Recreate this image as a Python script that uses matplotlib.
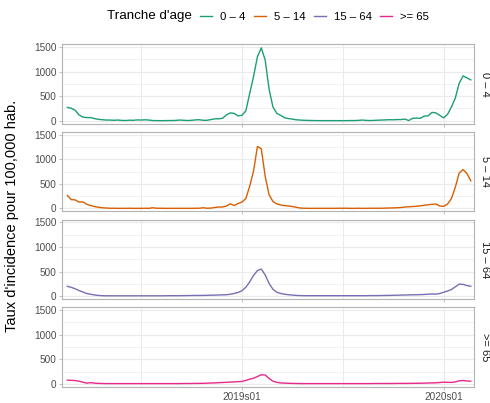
import matplotlib
matplotlib.use("Agg")
import matplotlib.pyplot as plt
from matplotlib.lines import Line2D

# ---- data ----
groups = ["0 – 4", "5 – 14", "15 – 64", ">= 65"]
colors = ["#1B9E77", "#D95F02", "#7570B3", "#E7298A"]

age_0_4 = [272, 255, 215, 120, 75, 65, 65, 45, 30, 22,
           15, 15, 10, 15, 8, 5, 12, 10, 18, 15,
           20, 15, 5, 3, 3, 3, 5, 5, 8, 15,
           10, 5, 10, 18, 22, 10, 10, 25, 40, 40,
           50, 120, 160, 150, 100, 110, 200, 550, 900, 1300,
           1480, 1230, 640, 280, 150, 110, 60, 45, 35, 20,
           15, 10, 8, 5, 5, 3, 3, 3, 3, 3,
           3, 3, 3, 5, 5, 8, 15, 8, 5, 8,
           12, 15, 18, 22, 20, 25, 25, 35, 5, 50,
           55, 50, 95, 100, 170, 160, 110, 60, 130, 280,
           460, 760, 910, 870, 830]
age_5_14 = [265, 180, 175, 130, 135, 85, 60, 40, 25, 15,
            10, 5, 5, 3, 3, 3, 5, 3, 3, 3,
            5, 3, 15, 5, 5, 3, 3, 3, 3, 3,
            3, 3, 3, 5, 5, 15, 5, 8, 20, 30,
            30, 50, 95, 60, 100, 130, 200, 450, 760, 1260,
            1210, 650, 280, 140, 95, 70, 60, 50, 40, 25,
            10, 5, 3, 3, 3, 3, 3, 3, 3, 3,
            5, 5, 5, 3, 3, 5, 3, 3, 5, 5,
            5, 5, 8, 10, 12, 15, 20, 30, 35, 40,
            45, 55, 65, 75, 85, 90, 50, 45, 90, 200,
            430, 720, 790, 710, 560]
age_15_64 = [200, 180, 150, 115, 85, 55, 40, 25, 15, 10,
             8, 8, 8, 8, 8, 8, 8, 8, 8, 8,
             8, 8, 8, 8, 8, 8, 10, 10, 10, 10,
             12, 12, 14, 15, 15, 16, 18, 20, 22, 25,
             27, 30, 40, 55, 75, 110, 180, 290, 420, 520,
             550, 430, 260, 140, 80, 55, 40, 30, 22, 16,
             12, 10, 10, 10, 10, 10, 10, 10, 10, 10,
             10, 10, 10, 10, 10, 10, 10, 10, 12, 12,
             12, 14, 15, 16, 18, 20, 22, 24, 26, 28,
             30, 32, 35, 40, 45, 42, 55, 80, 105, 135,
             190, 245, 240, 215, 200]
age_65 = [75, 72, 68, 55, 35, 15, 25, 15, 10, 8,
          6, 6, 6, 6, 6, 6, 6, 6, 6, 6,
          6, 6, 6, 6, 6, 6, 6, 6, 6, 6,
          8, 8, 8, 10, 10, 12, 15, 18, 20, 25,
          28, 32, 36, 40, 45, 50, 70, 95, 115, 150,
          185, 180, 110, 55, 30, 20, 15, 12, 10, 8,
          6, 6, 6, 6, 6, 6, 6, 6, 6, 6,
          6, 6, 6, 6, 6, 6, 6, 6, 6, 8,
          8, 8, 8, 8, 8, 10, 10, 10, 10, 12,
          12, 14, 15, 18, 20, 22, 28, 35, 32, 30,
          40, 62, 70, 58, 55]
series = [age_0_4, age_5_14, age_15_64, age_65]

# week categories 2018s08 .. 2020s08
weeks = []
for yr, w0, w1 in [(2018, 8, 52), (2019, 1, 52), (2020, 1, 8)]:
    for w in range(w0, w1 + 1):
        weeks.append(f"{yr}s{w:02d}")

tick_labels = ["2019s01", "2020s01"]
minor_breaks = ["2018s27", "2019s27"]
y_major = [0, 500, 1000, 1500]
y_minor = [250, 750, 1250]

# ---- figure ----
plt.rcParams["font.family"] = ["Liberation Sans", "DejaVu Sans"]
W, H = 490, 403
fig = plt.figure(figsize=(W / 100, H / 100), dpi=100)

left = 62.3 / W
width = (474.3 - 62.3) / W
tops = [44.3, 132.0, 219.7, 307.4]
ph = 79.2

x = list(range(len(weeks)))
maj_pos = [weeks.index(t) for t in tick_labels]
min_pos = [weeks.index(t) for t in minor_breaks]

axes = []
for i, (g, c, vals) in enumerate(zip(groups, colors, series)):
    ax = fig.add_axes([left, 1 - (tops[i] + ph) / H, width, ph / H])
    axes.append(ax)
    for yv in y_minor:
        ax.axhline(yv, color="#EBEBEB", lw=0.5, zorder=0)
    for yv in y_major:
        ax.axhline(yv, color="#EBEBEB", lw=0.9, zorder=0)
    for xv in min_pos:
        ax.axvline(xv, color="#EBEBEB", lw=0.7, zorder=0)
    for xv in maj_pos:
        ax.axvline(xv, color="#EBEBEB", lw=0.9, zorder=0)
    ax.plot(x, vals, color=c, lw=1.0, zorder=2)
    ax.set_xlim(-1.3, 104.9)
    ax.set_ylim(-55, 1552)
    ax.set_yticks(y_major)
    ax.set_yticklabels([str(v) for v in y_major])
    ax.set_xticks(maj_pos)
    if i == 3:
        ax.set_xticklabels(tick_labels)
    else:
        ax.set_xticklabels([])
    ax.tick_params(axis="both", length=2.5, width=0.6, color="#B3B3B3",
                   labelcolor="#4D4D4D", labelsize=7.2, pad=1.5)
    for s in ax.spines.values():
        s.set_color("#B3B3B3")
        s.set_linewidth(0.8)
    ax.text(1.0 + 10.5 / (W * width), 0.5, g, transform=ax.transAxes,
            rotation=-90, ha="center", va="center", fontsize=8.0,
            color="#1A1A1A")

fig.text(12 / W, 1 - 215.5 / H, "Taux d'incidence pour 100,000 hab.",
         rotation=90, ha="center", va="center", fontsize=10.5, color="black")

# legend
fig.text(107 / W, 1 - 16 / H, "Tranche d'age", ha="left", va="center",
         fontsize=9.6, color="black")
handles = [Line2D([0], [0], color=c, lw=1.0) for c in colors]
fig.legend(handles, groups, loc="center left", bbox_to_anchor=(200 / W, 1 - 16.5 / H),
           ncol=4, frameon=False, fontsize=8.2, handlelength=1.05,
           handletextpad=0.7, columnspacing=0.75, borderpad=0, borderaxespad=0,
           labelcolor="black")

fig.savefig("out.png", dpi=100)
